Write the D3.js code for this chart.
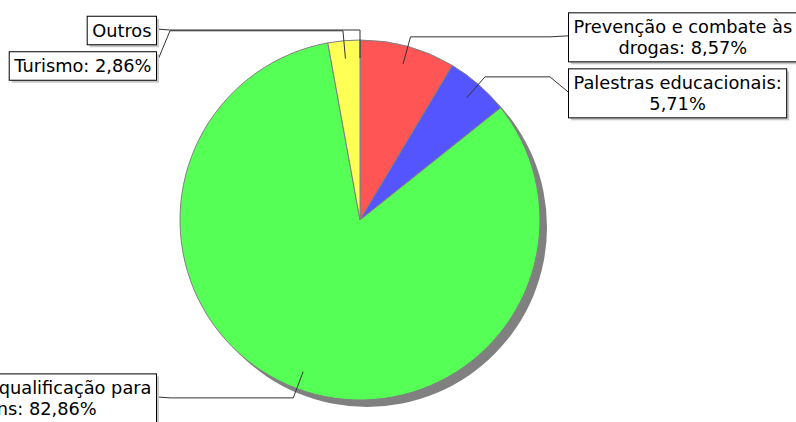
<!DOCTYPE html>
<html>
<head>
<meta charset="utf-8">
<script src="https://cdn.jsdelivr.net/npm/d3@7"></script>
<style>
  html, body { margin: 0; padding: 0; background: #fff; overflow: hidden; }
  svg { display: block; }
</style>
</head>
<body>
<svg id="chart" width="796" height="422"></svg>
<script>
const categories = ["Prevenção e combate às drogas", "Palestras educacionais", "Cursos de qualificação para jovens", "Turismo", "Outros"];
const values = [8.57, 5.71, 82.86, 2.86, 0];
const colors = ["#ff5555", "#5555ff", "#55ff55", "#ffff55", "#ff55ff"];

const W = 796, H = 422;
const cx = 360, cy = 220, R = 180;
const fontSize = 17.8, lineH = 20.5, padX = 5, padY = 4, gap = 7, maxTextW = 258;

const svg = d3.select("#chart");
const data = categories.map((c, i) => ({ name: c, value: values[i], color: colors[i] }));

const pie = d3.pie().sort(null).value(d => d.value);
const arcs = pie(data);
const arcGen = d3.arc().innerRadius(0).outerRadius(R);

const g = svg.append("g").attr("transform", `translate(${cx},${cy})`);

// pie shadow
g.append("circle").attr("cx", 7).attr("cy", 7).attr("r", R).attr("fill", "#808080");

g.selectAll("path.slice").data(arcs.filter(a => a.value > 0)).join("path")
  .attr("class", "slice")
  .attr("d", arcGen)
  .attr("fill", d => d.data.color)
  .attr("stroke", "#808080")
  .attr("stroke-width", 1);

const fmt = v => v.toFixed(2).replace(".", ",") + "%";
const labelText = d => d.value > 0 ? `${d.name}: ${fmt(d.value)}` : d.name;

// measure + wrap
const measure = svg.append("text").attr("font-family", "DejaVu Sans").attr("font-size", fontSize);
function wrap(str) {
  const words = str.split(" ");
  const lines = [];
  let cur = "";
  words.forEach(w => {
    const test = cur ? cur + " " + w : w;
    measure.text(test);
    if (cur && measure.node().getComputedTextLength() > maxTextW) {
      lines.push(cur); cur = w;
    } else cur = test;
  });
  if (cur) lines.push(cur);
  const widths = lines.map(l => { measure.text(l); return measure.node().getComputedTextLength(); });
  return { lines, width: d3.max(widths) };
}

const polar = (a, r) => [Math.sin(a) * r, -Math.cos(a) * r];

const items = arcs.map(a => {
  const mid = (a.startAngle + a.endAngle) / 2;
  const side = Math.sin(mid) > 1e-9 ? 1 : -1;
  const inner = polar(mid, R * 0.9);
  const outer = polar(mid, R + 10);
  const wr = wrap(labelText(a.data));
  const bw = wr.width + 2 * padX;
  const bh = wr.lines.length * lineH + 2 * padY;
  return { a, mid, side, inner, outer, lines: wr.lines, bw, bh };
});
measure.remove();

[1, -1].forEach(side => {
  const list = items.filter(d => d.side === side).sort((p, q) => p.outer[1] - q.outer[1]);
  let prevBottom = -Infinity;
  list.forEach(d => {
    const top = Math.max(d.outer[1] - d.bh / 2, prevBottom + gap);
    d.top = top;
    prevBottom = top + d.bh;
    d.elbowX = side * (R + 10);
    d.boxX = side > 0 ? 208 : -204 - d.bw;
    d.edgeX = side > 0 ? 208 : -204;
  });
});

const line = d3.line();
g.selectAll("path.leader").data(items).join("path")
  .attr("class", "leader")
  .attr("fill", "none")
  .attr("stroke", "#333")
  .attr("stroke-width", 1)
  .attr("d", d => line([d.inner, d.outer, [d.elbowX, d.outer[1]], [d.edgeX, d.top + d.bh / 2 - 1]]));

const lab = g.selectAll("g.lab").data(items).join("g").attr("class", "lab")
  .attr("transform", d => `translate(${d.boxX},${d.top})`);
lab.append("rect").attr("x", 3).attr("y", 3).attr("width", d => d.bw).attr("height", d => d.bh).attr("fill", "#c8c8c8");
lab.append("rect").attr("x", 0.5).attr("y", 0.5).attr("width", d => d.bw).attr("height", d => d.bh)
  .attr("fill", "#fff").attr("stroke", "#000").attr("stroke-width", 1);
lab.append("text")
  .attr("font-family", "DejaVu Sans").attr("font-size", fontSize).attr("fill", "#000")
  .attr("text-anchor", "middle")
  .selectAll("tspan").data(d => d.lines.map((l, i) => ({ l, i, d }))).join("tspan")
  .attr("x", d => d.d.bw / 2 + 0.5)
  .attr("y", d => padY + d.i * lineH + lineH / 2 + 6.8)
  .text(d => d.l);
</script>
</body>
</html>
